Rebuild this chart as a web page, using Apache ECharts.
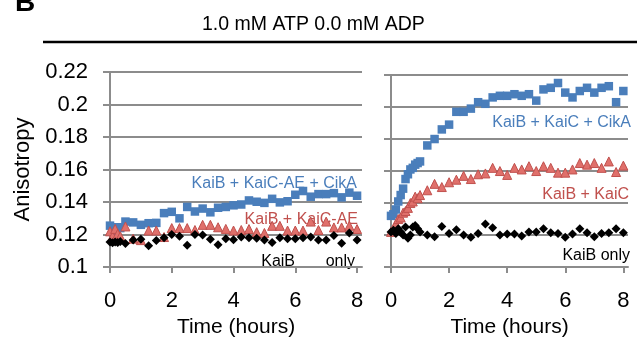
<!DOCTYPE html>
<html>
<head>
<meta charset="utf-8">
<script src="https://cdn.jsdelivr.net/npm/echarts@6/dist/echarts.min.js"></script>
<style>
  html, body { margin: 0; padding: 0; background: #fff; }
  #chart { width: 637px; height: 343px; }
</style>
</head>
<body>
<div id="chart"></div>
<script>
// time points (hours)
const timeLeft = [0, 0.083, 0.167, 0.25, 0.333, 0.5, 0.75, 1, 1.25, 1.5, 1.75, 2, 2.25, 2.5, 2.75, 3, 3.25, 3.5,
  3.75, 4, 4.25, 4.5, 4.75, 5, 5.25, 5.5, 5.75, 6, 6.25, 6.5, 6.75, 7, 7.25, 7.5, 7.75, 8];
const timeRight = [0, 0.083, 0.167, 0.25, 0.333, 0.417, 0.5, 0.583, 0.667, 0.75, 0.833, 0.917, 1, 1.25, 1.5,
  1.75, 2, 2.25, 2.5, 2.75, 3, 3.25, 3.5, 3.75, 4, 4.25, 4.5, 4.75, 5, 5.25, 5.5, 5.75, 6, 6.25, 6.5, 6.75, 7,
  7.25, 7.5, 7.75, 8];

// left panel: KaiC-AE
const aeCikA = [0.1255, 0.1235, 0.122, 0.1245, 0.124, 0.128, 0.1275, 0.126, 0.127, 0.1272, 0.1332, 0.134, 0.130,
  0.137, 0.1342, 0.136, 0.1337, 0.1365, 0.137, 0.138, 0.1385, 0.141, 0.1402, 0.1395, 0.142, 0.1398, 0.1405,
  0.1445, 0.1468, 0.1433, 0.1449, 0.1449, 0.1455, 0.1429, 0.1458, 0.1439];
const aeKaiC = [0.122, 0.119, 0.1235, 0.1205, 0.119, 0.125, 0.1175, 0.1166, 0.1225, 0.1225, 0.1185, 0.124, 0.124,
  0.124, 0.1228, 0.126, 0.126, 0.1245, 0.1235, 0.1225, 0.1228, 0.1234, 0.1215, 0.121, 0.1254, 0.1254, 0.1225,
  0.1225, 0.1225, 0.128, 0.1228, 0.128, 0.1244, 0.1244, 0.1254, 0.1234];
const aeOnly = [0.1155, 0.115, 0.1155, 0.1152, 0.1158, 0.1145, 0.1166, 0.1172, 0.1132, 0.1163, 0.118, 0.120, 0.119,
  0.1135, 0.120, 0.1198, 0.1172, 0.1137, 0.1175, 0.1168, 0.1185, 0.118, 0.1178, 0.1166, 0.1152, 0.118, 0.1175,
  0.1175, 0.118, 0.1185, 0.1166, 0.1166, 0.1195, 0.1146, 0.121, 0.1166];

// right panel: wild-type KaiC
const wtCikA = [0.132, 0.133, 0.136, 0.141, 0.145, 0.149, 0.155, 0.158, 0.161, 0.162, 0.164, 0.165, 0.166, 0.176,
  0.180, 0.186, 0.189, 0.197, 0.197, 0.199, 0.203, 0.202, 0.206, 0.207, 0.207, 0.208, 0.207, 0.208, 0.204, 0.211,
  0.212, 0.215, 0.209, 0.206, 0.210, 0.212, 0.209, 0.212, 0.213, 0.203, 0.210];
const wtKaiC = [0.122, 0.124, 0.127, 0.130, 0.131, 0.134, 0.135, 0.137, 0.140, 0.141, 0.144, 0.143, 0.145, 0.148,
  0.152, 0.150, 0.153, 0.1546, 0.157, 0.155, 0.158, 0.1585, 0.162, 0.160, 0.1576, 0.162, 0.161, 0.163, 0.160,
  0.163, 0.162, 0.159, 0.159, 0.161, 0.165, 0.164, 0.165, 0.162, 0.166, 0.1594, 0.1634];
const wtOnly = [0.122, 0.123, 0.121, 0.124, 0.122, 0.120, 0.125, 0.118, 0.120, 0.125, 0.126, 0.124, 0.122, 0.120,
  0.119, 0.1254, 0.121, 0.1234, 0.120, 0.1186, 0.121, 0.127, 0.1246, 0.120, 0.1206, 0.1206, 0.1194, 0.122, 0.122,
  0.124, 0.1214, 0.121, 0.1186, 0.1206, 0.124, 0.1214, 0.119, 0.121, 0.1214, 0.124, 0.1214];

const xTicks = [0, 2, 4, 6, 8];

const FONT = "Liberation Sans, Arial, sans-serif";
const GRID_GREY = "#8c8c8c";
const BLUE = "#4a7ebb";
const RED = "#c0504d";

function pairs(xs, ys) {
  return xs.map((x, i) => [x, ys[i]]);
}

function xAxisFor(gridIndex) {
  return {
    type: "value", gridIndex: gridIndex, min: 0, max: 8.16,
    name: "Time (hours)", nameLocation: "middle", nameGap: 40,
    nameTextStyle: { fontFamily: FONT, fontSize: 21, color: "#000" },
    axisLine: { show: true, lineStyle: { color: GRID_GREY, width: 2 } },
    axisTick: { show: true, length: 6, customValues: xTicks, lineStyle: { color: GRID_GREY, width: 2 } },
    axisLabel: { customValues: xTicks, margin: 23, fontFamily: FONT, fontSize: 22, color: "#000" },
    splitLine: { show: false }
  };
}

function yAxisFor(gridIndex, withLabels) {
  return {
    type: "value", gridIndex: gridIndex, min: 0.1, max: 0.22, interval: 0.02,
    name: withLabels ? "Anisotropy" : "", nameLocation: "middle", nameGap: 76,
    nameTextStyle: { fontFamily: FONT, fontSize: 22, color: "#000" },
    axisLine: { show: true, lineStyle: { color: GRID_GREY, width: 2 } },
    axisTick: { show: true, length: 7, lineStyle: { color: GRID_GREY, width: 2 } },
    axisLabel: {
      show: withLabels, margin: 22, fontFamily: FONT, fontSize: 22, color: "#000",
      formatter: v => String(Math.round(v * 100) / 100)
    },
    splitLine: { show: true, lineStyle: { color: GRID_GREY, width: 2 } }
  };
}

function scatter(idx, data, symbol, size, fill, border) {
  return {
    type: "scatter", xAxisIndex: idx, yAxisIndex: idx, data: data,
    symbol: symbol, symbolSize: size, silent: true,
    itemStyle: { color: fill, borderColor: border, borderWidth: border ? 1 : 0, opacity: 1 }
  };
}

function note(text, x, y, color) {
  return {
    type: "text", x: x, y: y, silent: true,
    style: { text: text, fill: color, font: "16px " + FONT, textAlign: "right", textVerticalAlign: "middle" }
  };
}

const chart = echarts.init(document.getElementById("chart"), null, { renderer: "canvas" });
chart.setOption({
  animation: false,
  backgroundColor: "#fff",
  title: {
    text: "1.0 mM ATP 0.0 mM ADP", left: 197, top: 10,
    textStyle: { fontFamily: FONT, fontSize: 19.5, fontWeight: "normal", color: "#000" }
  },
  grid: [
    { left: 110, top: 72, width: 252, height: 205 },
    { left: 391, top: 75, width: 237, height: 200 }
  ],
  xAxis: [xAxisFor(0), xAxisFor(1)],
  yAxis: [yAxisFor(0, true), yAxisFor(1, false)],
  series: [
    scatter(0, pairs(timeLeft, aeCikA), "rect", 8.5, BLUE),
    scatter(0, pairs(timeLeft, aeKaiC), "triangle", 9, "#e0706b", RED),
    scatter(0, pairs(timeLeft, aeOnly), "diamond", 9, "#000"),
    scatter(1, pairs(timeRight, wtCikA), "rect", 8.5, BLUE),
    scatter(1, pairs(timeRight, wtKaiC), "triangle", 9, "#e0706b", RED),
    scatter(1, pairs(timeRight, wtOnly), "diamond", 9, "#000")
  ],
  graphic: [
    { type: "text", x: 15, y: 3, style: { text: "B", font: "bold 28px " + FONT, fill: "#000", textVerticalAlign: "middle" } },
    { type: "line", shape: { x1: 43, y1: 42, x2: 637, y2: 42 }, style: { stroke: "#000", lineWidth: 2.5 } },
    note("KaiB + KaiC-AE + CikA", 357, 184, BLUE),
    note("KaiB + KaiC-AE", 358, 220, RED),
    note("KaiB", 295, 262, "#000"),
    note("only", 355, 262, "#000"),
    note("KaiB + KaiC + CikA", 631, 123, BLUE),
    note("KaiB + KaiC", 629, 195, RED),
    note("KaiB only", 630, 256, "#000")
  ]
});
</script>
</body>
</html>
